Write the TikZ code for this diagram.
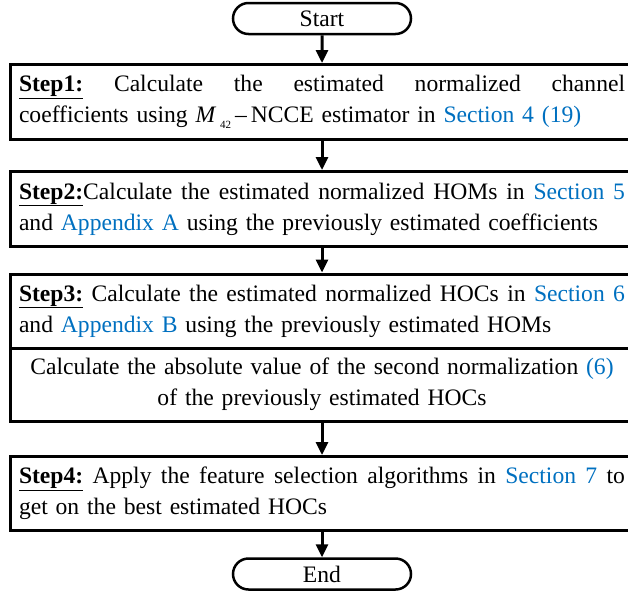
\documentclass[tikz,border=0pt]{standalone}
\usepackage{fontspec}
\setmainfont{Liberation Serif}
\usetikzlibrary{arrows.meta,shapes.misc}
\definecolor{linkblue}{RGB}{0,112,192}
\newlength{\steptextwidth}
\setlength{\steptextwidth}{606pt}
\newcommand{\refblue}[1]{\textcolor{linkblue}{#1}}
\newcommand{\steplabel}[1]{\underline{\textbf{#1}}}
% first line of a step: spread across the whole text width
\newcommand{\fullline}[1]{\hbox to \steptextwidth{\spaceskip=0.25em plus 1fil minus 0.08em #1}}
\begin{document}
\begin{tikzpicture}[x=1pt,y=-1pt,
  font=\fontsize{23.6}{31}\selectfont,
  terminal/.style={rounded rectangle, draw, line width=2.5pt,
    minimum width=178pt, minimum height=31pt, inner sep=0pt},
  stepbox/.style={rectangle, draw, line width=3pt, text width=\steptextwidth,
    inner xsep=9pt, inner ysep=0pt, align=left, anchor=north,
    minimum height=#1},
  flow/.style={-{Triangle[length=13pt,width=12pt]}, line width=3pt}
]
\useasboundingbox (0,0) rectangle (628,595);

\node[terminal] (start) at (322,18.5) {Start};

\node[stepbox=75pt] (s1) at (322,63)
  {\fullline{\steplabel{Step1:} Calculate the estimated normalized channel}\\
   coefficients using \textit{M}\,\raisebox{-0.6ex}{\fontsize{11}{11}\selectfont 42}\,–\,NCCE estimator in \refblue{Section 4 (19)}};

\node[stepbox=75pt] (s2) at (322,170)
  {\fullline{\steplabel{Step2:}Calculate the estimated normalized HOMs in \refblue{Section 5}}\\
   and \refblue{Appendix A} using the previously estimated coefficients};

% step 3 and its follow-up share one border
\node[stepbox=74pt, outer sep=0pt] (s3) at (322,274)
  {\fullline{\steplabel{Step3:} Calculate the estimated normalized HOCs in \refblue{Section 6}}\\
   and \refblue{Appendix B} using the previously estimated HOMs};

\node[stepbox=73pt, outer sep=0pt, align=center] (s3b) at (s3.south)
  {Calculate the absolute value of the second normalization \refblue{(6)}\\
   of the previously estimated HOCs};

\node[stepbox=74pt] (s4) at (322,455)
  {\fullline{\steplabel{Step4:} Apply the feature selection algorithms in \refblue{Section 7} to}\\
   get on the best estimated HOCs};

\node[terminal] (end) at (322,574) {End};

\draw[flow] (start) -- (start |- s1.north);
\draw[flow] (start |- s1.south) -- (start |- s2.north);
\draw[flow] (start |- s2.south) -- ([yshift=1.5pt]start |- s3.north);
\draw[flow] ([yshift=-1.5pt]start |- s3b.south) -- (start |- s4.north);
\draw[flow] (start |- s4.south) -- (end);
\end{tikzpicture}
\end{document}
